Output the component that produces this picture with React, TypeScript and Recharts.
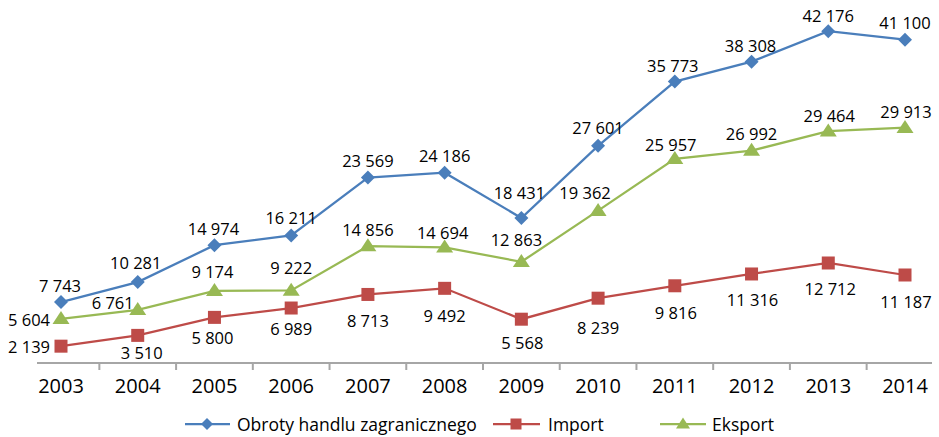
import React from "react";
import { LineChart, Line, XAxis, YAxis, Legend, LabelList } from "recharts";

const years = ["2003", "2004", "2005", "2006", "2007", "2008", "2009", "2010", "2011", "2012", "2013", "2014"];
const obroty = [7743, 10281, 14974, 16211, 23569, 24186, 18431, 27601, 35773, 38308, 42176, 41100];
const importVals = [2139, 3510, 5800, 6989, 8713, 9492, 5568, 8239, 9816, 11316, 12712, 11187];
const eksport = [5604, 6761, 9174, 9222, 14856, 14694, 12863, 19362, 25957, 26992, 29464, 29913];

// label nudges [dx, dy] relative to each marker
const obrotyNudge = [[-1, -17], [-2, -20], [-1, -17], [0, -18], [0, -17], [0, -17], [-2, -26], [0, -18], [-2, -16], [-1, -16], [0, -16], [0, -17]];
const importNudge = [[-32, 0], [4, 17], [-2, 20], [0, 20], [0, 26], [0, 27], [1, 23], [0, 29], [1, 27], [1, 26], [2, 26], [1, 27]];
const eksportNudge = [[-32, 1], [-25, -7], [-2, -19], [0, -23], [0, -17], [-2, -15], [-5, -22], [-13, -18], [-4, -14], [0, -17], [1, -16], [1, -16]];

const BLUE = "#4a7ebb";
const RED = "#be4b48";
const GREEN = "#98b954";
const AXIS = "#a6a6a6";
const FONT = "'Open Sans', Lato, sans-serif";

const data = years.map((year, i) => ({
  year,
  obroty: obroty[i],
  import: importVals[i],
  eksport: eksport[i],
}));

const fmt = (v: number) => String(v).replace(/\B(?=(\d{3})+(?!\d))/g, " ");

const makeLabel = (nudge: number[][]) => (props: any) => {
  const { x, y, value, index } = props;
  const [dx, dy] = nudge[index] || [0, -17];
  return (
    <text x={x + dx} y={y + dy} textAnchor="middle" dominantBaseline="central" fontSize={16.5} fontFamily={FONT} fill="#000">
      {fmt(value)}
    </text>
  );
};

const Diamond = ({ cx, cy, size = 7 }: any) => (
  <polygon points={`${cx},${cy - size} ${cx + size},${cy} ${cx},${cy + size} ${cx - size},${cy}`} fill={BLUE} />
);
const Square = ({ cx, cy, size = 13 }: any) => (
  <rect x={cx - size / 2} y={cy - size / 2} width={size} height={size} fill={RED} />
);
const Triangle = ({ cx, cy, w = 17, h = 13 }: any) => (
  <polygon points={`${cx},${cy - h * 0.6} ${cx + w / 2},${cy + h * 0.4} ${cx - w / 2},${cy + h * 0.4}`} fill={GREEN} />
);

const YearTick = (props: any) => {
  const { x, y, payload, index } = props;
  const half = 844 / 11 / 2;
  return (
    <g>
      <text x={x} y={y + 30} textAnchor="middle" fontSize={20} fontFamily={FONT} fill="#000">
        {payload.value}
      </text>
      {index < years.length - 1 && <line x1={x + half} x2={x + half} y1={y} y2={y + 7} stroke={AXIS} strokeWidth={2} />}
    </g>
  );
};

const LegendContent = () => (
  <svg width={939} height={24}>
    <g fontFamily={FONT} fontSize={17.5} fill="#000">
      <line x1={185} x2={230} y1={13} y2={13} stroke={BLUE} strokeWidth={2.25} />
      <Diamond cx={207} cy={13} size={6} />
      <text x={237} y={13} dominantBaseline="central">Obroty handlu zagranicznego</text>
      <line x1={493} x2={540} y1={13} y2={13} stroke={RED} strokeWidth={2.25} />
      <Square cx={516} cy={13} size={11} />
      <text x={548} y={13} dominantBaseline="central">Import</text>
      <line x1={660} x2={706} y1={13} y2={13} stroke={GREEN} strokeWidth={2.25} />
      <Triangle cx={683} cy={13} w={14} h={11} />
      <text x={712} y={13} dominantBaseline="central">Eksport</text>
    </g>
  </svg>
);

export default function App() {
  return (
    <div style={{ position: "absolute", left: 0, top: 0, width: 939, height: 437, background: "#fff" }}>
      <LineChart width={939} height={437} data={data} margin={{ top: 9, right: 7, left: 37, bottom: 2 }}>
        <XAxis
          dataKey="year"
          height={48}
          padding={{ left: 24, right: 27 }}
          interval={0}
          tickLine={false}
          tickSize={0}
          tickMargin={0}
          axisLine={{ stroke: AXIS, strokeWidth: 2 }}
          tick={<YearTick />}
        />
        <YAxis hide domain={[0, 45000]} />
        <Legend verticalAlign="bottom" height={24} content={<LegendContent />} wrapperStyle={{ left: 0, width: 939 }} />
        <Line
          dataKey="obroty"
          name="Obroty handlu zagranicznego"
          stroke={BLUE}
          strokeWidth={2.25}
          isAnimationActive={false}
          activeDot={false}
          dot={(p: any) => <Diamond key={`d-${p.index}`} cx={p.cx} cy={p.cy} />}
        >
          <LabelList dataKey="obroty" content={makeLabel(obrotyNudge)} />
        </Line>
        <Line
          dataKey="import"
          name="Import"
          stroke={RED}
          strokeWidth={2.25}
          isAnimationActive={false}
          activeDot={false}
          dot={(p: any) => <Square key={`s-${p.index}`} cx={p.cx} cy={p.cy} />}
        >
          <LabelList dataKey="import" content={makeLabel(importNudge)} />
        </Line>
        <Line
          dataKey="eksport"
          name="Eksport"
          stroke={GREEN}
          strokeWidth={2.25}
          isAnimationActive={false}
          activeDot={false}
          dot={(p: any) => <Triangle key={`t-${p.index}`} cx={p.cx} cy={p.cy} />}
        >
          <LabelList dataKey="eksport" content={makeLabel(eksportNudge)} />
        </Line>
      </LineChart>
    </div>
  );
}
